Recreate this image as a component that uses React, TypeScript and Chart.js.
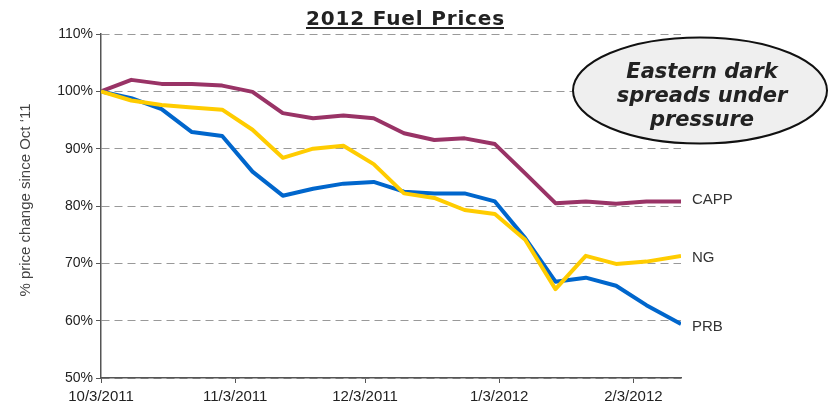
import React, { useEffect, useRef } from "react";
import { Chart, registerables } from "chart.js";

Chart.register(...registerables);

// Days since 10/3/2011 for each weekly observation
const DAYS = [0, 7, 14, 21, 28, 35, 42, 49, 56, 63, 70, 77, 84, 91, 98, 105, 112, 119, 126, 134];

const CAPP = [100, 102.0, 101.3, 101.3, 101.0, 99.9, 96.2, 95.3, 95.8, 95.3, 92.7, 91.5, 91.8, 90.8, 85.7, 80.5, 80.8, 80.4, 80.8, 80.8];
const NG = [100, 98.4, 97.6, 97.2, 96.8, 93.3, 88.4, 90.0, 90.5, 87.3, 82.2, 81.4, 79.3, 78.6, 74.1, 65.5, 71.3, 69.9, 70.3, 71.3];
const PRB = [100, 98.8, 96.9, 92.9, 92.2, 86.0, 81.8, 83.0, 83.9, 84.2, 82.5, 82.2, 82.2, 80.8, 74.4, 66.8, 67.5, 66.1, 62.7, 59.4];

const X_TICK_DAYS = [0, 31, 61, 92, 123];
const X_TICK_LABELS = ["10/3/2011", "11/3/2011", "12/3/2011", "1/3/2012", "2/3/2012"];
const Y_TICKS = [50, 60, 70, 80, 90, 100, 110];

const TITLE = "2012 Fuel Prices";
const Y_TITLE = "% price change since Oct \u201811";
const CALLOUT = ["Eastern dark", "spreads under", "pressure"];
const SERIES_NAMES = ["NG", "PRB", "CAPP"];

const COLORS: Record<string, string> = { CAPP: "#993366", NG: "#FFCC00", PRB: "#0066CC" };

const toPoints = (vals: number[]) => vals.map((v, i) => ({ x: DAYS[i], y: v }));

const decorPlugin = {
  id: "decor",
  afterDraw(chart: any) {
    const ctx = chart.ctx as CanvasRenderingContext2D;

    // Title, bold & underlined
    ctx.save();
    ctx.font = "bold 20px 'DejaVu Sans'";
    ctx.fillStyle = "#222";
    ctx.textBaseline = "alphabetic";
    ctx.textAlign = "left";
    const natural = ctx.measureText(TITLE).width;
    const targetW = 198;
    const ls = Math.max(0, (targetW - natural) / (TITLE.length - 1));
    (ctx as any).letterSpacing = ls.toFixed(2) + "px";
    const tx = 405 - targetW / 2;
    ctx.fillText(TITLE, tx, 25);
    (ctx as any).letterSpacing = "0px";
    ctx.fillRect(tx, 27, targetW, 2);
    ctx.restore();

    // Y axis title
    ctx.save();
    ctx.translate(26, 200);
    ctx.rotate(-Math.PI / 2);
    ctx.font = "15px 'Liberation Sans', Arial";
    ctx.fillStyle = "#444";
    ctx.textAlign = "center";
    ctx.textBaseline = "middle";
    ctx.fillText(Y_TITLE, 0, 0);
    ctx.restore();

    // Series end labels
    ctx.save();
    ctx.font = "15px 'Liberation Sans', Arial";
    ctx.fillStyle = "#333";
    ctx.textAlign = "left";
    ctx.textBaseline = "middle";
    const offs: Record<string, number> = { CAPP: -2, NG: 2, PRB: 3 };
    chart.data.datasets.forEach((ds: any, i: number) => {
      const meta = chart.getDatasetMeta(i);
      const last = meta.data[meta.data.length - 1];
      if (!last) return;
      ctx.fillText(ds.label, last.x + 11, last.y + (offs[ds.label] || 0));
    });
    ctx.restore();

    // Callout ellipse
    ctx.save();
    ctx.beginPath();
    ctx.ellipse(700, 90.5, 127, 53, 0, 0, Math.PI * 2);
    ctx.fillStyle = "#efefef";
    ctx.fill();
    ctx.lineWidth = 2;
    ctx.strokeStyle = "#111";
    ctx.stroke();
    ctx.font = "italic bold 21px 'DejaVu Sans'";
    ctx.fillStyle = "#222";
    ctx.textAlign = "center";
    ctx.textBaseline = "alphabetic";
    const baselines = [78, 102, 126];
    CALLOUT.forEach((line, i) => ctx.fillText(line, 702, baselines[i]));
    ctx.restore();
  },
};

export default function App() {
  const ref = useRef<HTMLCanvasElement | null>(null);

  useEffect(() => {
    if (!ref.current) return;
    const seriesMap: Record<string, number[]> = { CAPP, NG, PRB };
    const chart = new Chart(ref.current, {
      type: "line",
      data: {
        datasets: SERIES_NAMES.map((name) => ({
          label: name,
          data: toPoints(seriesMap[name]),
          borderColor: COLORS[name],
          backgroundColor: COLORS[name],
          borderWidth: 4,
          pointRadius: 0,
          tension: 0,
          fill: false,
          borderJoinStyle: "round" as const,
        })),
      },
      options: {
        responsive: false,
        animation: false,
        maintainAspectRatio: false,
        layout: { padding: { left: 0, right: 147, top: 34, bottom: 0 } },
        plugins: {
          legend: { display: false },
          tooltip: { enabled: false },
          title: { display: false },
        },
        scales: {
          x: {
            type: "linear",
            min: DAYS[0],
            max: DAYS[DAYS.length - 1],
            afterBuildTicks: (scale: any) => {
              scale.ticks = X_TICK_DAYS.map((v) => ({ value: v }));
            },
            afterFit: (scale: any) => {
              scale.height = 31;
            },
            ticks: {
              autoSkip: false,
              maxRotation: 0,
              minRotation: 0,
              padding: 5,
              color: "#222",
              font: { family: "'Liberation Sans', Arial", size: 15 },
              callback: (v: any) => {
                const idx = X_TICK_DAYS.indexOf(Number(v));
                return idx >= 0 ? X_TICK_LABELS[idx] : "";
              },
            },
            grid: {
              drawOnChartArea: false,
              drawTicks: true,
              tickLength: 5,
              color: "#555",
              tickColor: "#555",
            },
            border: { display: true, color: "#555", width: 1.5 },
          },
          y: {
            min: 50,
            max: 110,
            afterBuildTicks: (scale: any) => {
              scale.ticks = Y_TICKS.map((v) => ({ value: v }));
            },
            afterFit: (scale: any) => {
              scale.width = 101;
            },
            ticks: {
              padding: 3,
              color: "#222",
              font: { family: "'Liberation Sans', Arial", size: 14 },
              callback: (v: any) => v + "%",
            },
            grid: {
              drawOnChartArea: true,
              drawTicks: true,
              tickLength: 5,
              color: "#999",
              tickColor: "#555",
              lineWidth: 1,
            },
            border: { display: true, color: "#555", width: 1.5, dash: [8, 5] },
          },
        },
      },
      plugins: [decorPlugin],
    });
    return () => chart.destroy();
  }, []);

  return (
    <div style={{ position: "fixed", left: 0, top: 0, width: 828, height: 409, background: "#fff" }}>
      <canvas ref={ref} width={828} height={409} style={{ width: 828, height: 409 }} />
    </div>
  );
}
